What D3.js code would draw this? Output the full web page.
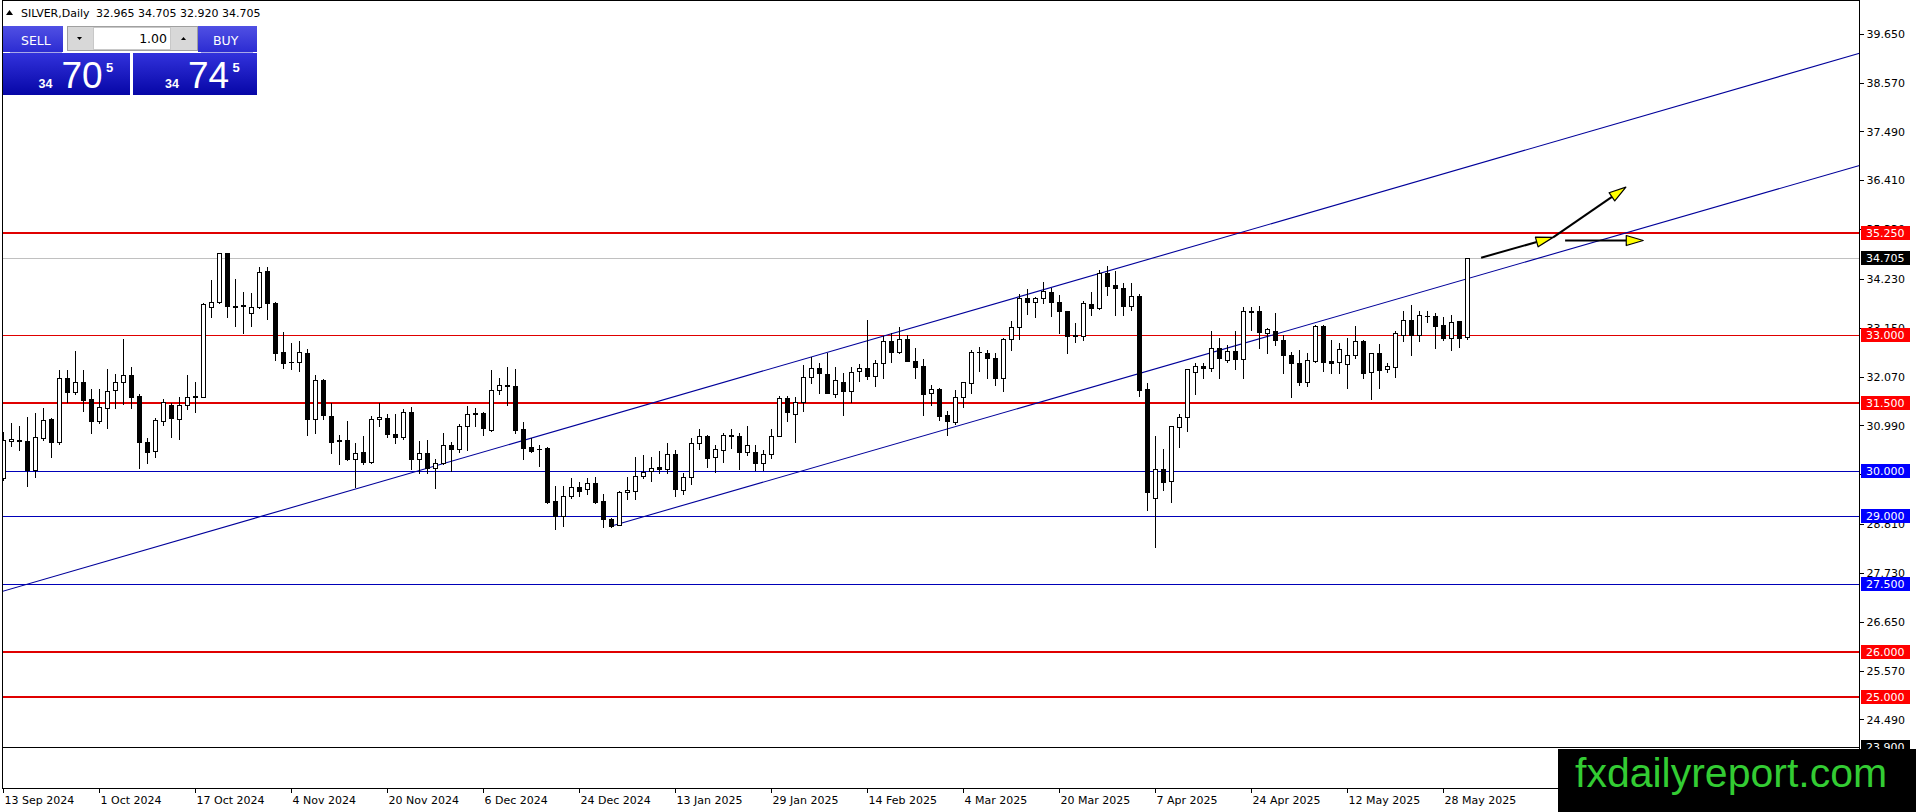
<!DOCTYPE html>
<html><head><meta charset="utf-8">
<script src="https://cdn.jsdelivr.net/npm/d3@7"></script>
<style>
html,body{margin:0;padding:0;background:#fff;overflow:hidden}
svg{display:block}
</style></head><body>
<svg id="c" width="1916" height="812"></svg>
<script>
// ---------------- DATA ----------------
const symbol = "SILVER,Daily";
const lastBarText = "32.965 34.705 32.920 34.705";
const startDate = "2024-09-13";
const holidays = ["2024-12-25","2025-01-01","2025-04-18"];

const open = [29.83,30.65,30.68,30.66,30.02,30.72,31.14,30.63,32.04,31.75,
31.97,31.58,31.11,31.38,31.79,31.97,32.12,31.65,30.64,30.44,
31.11,31.45,31.14,31.45,31.64,31.64,33.61,33.74,34.81,33.64,
33.66,33.48,33.63,34.42,33.72,32.62,32.40,32.40,32.60,31.14,
32.01,31.21,30.67,30.68,30.25,30.41,30.19,31.15,31.16,30.81,
30.74,31.29,30.25,30.39,30.05,30.18,30.57,30.47,30.99,31.25,
31.27,30.90,31.79,31.87,31.87,30.92,30.52,30.47,30.50,29.33,
29.00,29.45,29.63,29.59,29.72,29.33,28.93,28.80,29.52,29.55,
29.89,30.00,30.08,30.03,30.36,29.58,29.86,30.61,30.77,30.30,
30.46,30.77,30.77,30.41,30.42,30.17,30.36,30.77,31.60,31.25,
31.53,32.08,32.27,32.15,31.69,31.97,31.77,32.21,32.27,32.10,
32.38,32.86,32.63,32.91,32.43,32.32,31.71,31.81,31.23,31.07,
31.62,31.95,32.62,32.60,32.49,32.04,32.91,33.17,33.81,33.74,
33.81,33.96,33.74,33.53,32.97,32.97,33.69,33.59,34.38,34.11,
34.03,33.64,33.86,31.80,29.39,30.03,29.78,30.97,31.18,32.18,
32.32,32.27,32.71,32.45,32.65,32.46,33.53,33.53,33.04,33.10,
32.89,32.56,32.38,31.97,32.43,33.19,32.43,32.41,32.35,32.55,
32.87,32.18,32.61,32.24,32.30,33.00,33.33,33.00,33.42,33.42,
33.22,32.93,33.30,32.965];

const high = [30.86,31.06,31.00,31.19,31.27,31.38,31.16,32.23,32.23,32.65,
32.23,31.81,31.81,32.24,32.15,32.91,32.29,31.70,30.73,31.16,
31.58,31.49,31.64,32.12,31.97,33.70,34.22,34.82,34.82,34.25,
33.96,33.92,34.50,34.50,33.74,33.06,32.82,32.86,32.69,32.12,
32.03,31.49,30.79,31.09,30.61,30.77,31.21,31.49,31.26,31.25,
31.36,31.42,30.66,30.68,30.25,30.83,30.63,31.04,31.43,31.38,
31.29,32.23,32.04,32.30,32.25,31.07,30.72,30.57,30.52,29.66,
29.66,29.83,29.76,29.83,29.87,29.48,28.95,29.56,29.86,30.30,
30.35,30.30,30.44,30.62,30.46,29.94,30.72,30.92,30.79,30.58,
30.83,30.92,30.84,30.99,30.57,30.46,30.92,31.65,31.65,31.64,
32.34,32.51,32.38,32.61,32.29,32.17,32.30,32.36,33.33,32.45,
32.97,33.05,33.17,33.00,32.71,32.46,31.90,31.82,31.33,31.79,
31.97,32.67,32.73,32.67,32.60,32.93,33.30,33.91,34.01,33.85,
34.17,34.03,33.89,33.54,33.26,33.76,33.96,34.44,34.53,34.42,
34.16,34.16,33.91,31.93,30.77,30.47,30.99,31.26,32.24,32.38,
32.38,33.08,32.93,32.78,33.09,33.63,33.63,33.64,33.15,33.48,
33.00,32.63,32.67,32.60,33.22,33.22,32.89,32.83,32.94,33.19,
32.88,32.61,32.80,32.38,33.09,33.53,33.67,33.53,33.53,33.48,
33.39,33.44,33.31,34.705];

const low = [29.80,30.55,30.46,29.66,29.86,30.68,30.31,30.59,31.51,31.70,
31.32,30.84,31.06,30.95,31.38,31.47,31.38,30.07,30.18,30.31,
31.01,30.75,30.70,31.37,31.29,31.62,33.41,33.72,33.39,33.19,
33.04,33.19,33.59,33.35,32.45,32.28,32.25,32.21,30.78,30.83,
31.15,30.39,30.14,30.24,29.63,30.14,30.18,31.00,30.74,30.61,
30.70,30.03,29.94,29.94,29.61,30.16,30.00,30.42,30.46,30.98,
30.79,30.87,31.70,31.45,30.84,30.25,30.42,30.11,29.28,28.71,
28.77,29.39,29.44,29.48,29.28,28.76,28.76,28.79,29.37,29.37,
29.83,29.78,29.96,29.94,29.45,29.48,29.70,30.48,30.09,29.97,
30.19,30.51,30.04,30.35,30.02,30.02,30.28,30.76,31.09,30.64,
31.33,31.93,31.71,31.71,31.64,31.23,31.53,31.99,32.02,31.87,
32.04,32.41,32.60,32.42,32.06,31.23,31.46,31.12,30.78,31.04,
31.42,31.73,32.21,32.04,31.90,31.77,32.66,32.91,33.47,33.39,
33.72,33.42,33.05,32.61,32.85,32.88,33.44,33.57,33.89,33.44,
33.44,33.56,31.66,29.13,28.32,29.58,29.30,30.53,30.87,31.70,
32.04,32.21,32.04,32.40,32.24,32.06,33.11,32.72,32.61,32.77,
32.16,31.62,31.90,31.88,32.40,32.21,32.17,32.17,31.84,32.49,
32.04,31.59,31.84,32.19,32.08,32.87,32.56,32.86,33.28,32.72,
32.88,32.66,32.73,32.92];

const close = [30.68,30.70,30.66,30.02,30.74,31.12,30.64,32.04,31.75,31.97,
31.56,31.11,31.40,31.77,31.97,32.12,31.64,30.63,30.42,31.12,
31.51,31.16,31.45,31.62,31.66,33.68,33.74,34.81,33.65,33.62,
33.64,33.63,34.40,33.72,32.60,32.39,32.41,32.62,31.14,32.01,
31.23,30.64,30.65,30.25,30.40,30.20,31.14,31.19,30.81,30.74,
31.29,30.25,30.39,30.05,30.18,30.58,30.47,30.99,31.25,31.27,
30.94,31.79,31.90,31.89,30.90,30.51,30.44,30.49,29.32,29.00,
29.45,29.63,29.56,29.74,29.32,28.93,28.78,29.52,29.58,29.89,
29.98,30.05,30.03,30.36,29.59,29.86,30.61,30.77,30.28,30.47,
30.79,30.78,30.41,30.57,30.17,30.37,30.77,31.60,31.29,31.53,
32.08,32.27,32.17,31.73,32.01,31.77,32.18,32.27,32.10,32.38,
32.86,32.63,32.91,32.43,32.30,31.70,31.81,31.22,31.09,31.64,
31.96,32.63,32.63,32.49,32.04,32.91,33.17,33.81,33.74,33.81,
33.98,33.74,33.54,32.98,33.00,33.72,33.59,34.37,34.09,34.03,
33.64,33.86,31.79,29.54,30.03,29.76,30.99,31.18,32.24,32.32,
32.27,32.71,32.49,32.65,32.46,33.53,33.52,33.06,33.13,32.89,
32.57,32.38,31.96,32.45,33.19,32.41,32.39,32.69,32.56,32.87,
32.17,32.60,32.23,32.32,33.04,33.33,33.00,33.44,33.43,33.21,
32.93,33.28,32.93,34.705];

const priceTicks = [39.65,38.57,37.49,36.41,35.33,34.23,33.15,32.07,30.99,29.91,28.81,27.73,26.65,25.57,24.49];
const redThickLevels = [35.25, 31.5, 26.0, 25.0];
const redThinLevels = [33.0];
const blueLevels = [30.0, 29.0, 27.5];
const blackLevels = [23.9];
const currentPrice = 34.705;
// trend lines as [barIndex, price] anchors
const channelUpper = [[-1, 27.29], [232, 39.23]];
const channelLower = [[76, 28.78], [232, 36.75]];
// arrows as [[barIndex, price], [barIndex, price]]
const arrows = [
  [[184.7, 34.71], [193.7, 35.16]],
  [[193.7, 35.16], [202.8, 36.27]],
  [[195.2, 35.09], [204.97, 35.09]]
];
const lotSize = "1.00";
const bidBig = "70", bidSmall = "34", bidPip = "5";
const askBig = "74", askSmall = "34", askPip = "5";
const watermark = "fxdailyreport.com";

// ---------------- CHART ----------------
const svg = d3.select("#c");
const FONT = "DejaVu Sans, sans-serif";
const plotL = 2.5, plotR = 1859.5, plotT = 0.5, plotB = 788;
const x = d3.scaleLinear().domain([0, close.length - 1]).range([3.5, 3.5 + 8 * (close.length - 1)]);
const y = d3.scaleLinear().domain([22.986, 40.386]).range([788, 1]);
const yc = v => Math.round(y(v)) + 0.5;

svg.append("rect").attr("width", 1916).attr("height", 812).attr("fill", "#fff");

const defs = svg.append("defs");
defs.append("clipPath").attr("id", "plotclip").append("rect")
  .attr("x", plotL).attr("y", plotT).attr("width", plotR - plotL).attr("height", plotB - plotT);
const gTop = defs.append("linearGradient").attr("id", "gTop").attr("x1", 0).attr("y1", 0).attr("x2", 0).attr("y2", 1);
gTop.append("stop").attr("offset", "0%").attr("stop-color", "#5050e4");
gTop.append("stop").attr("offset", "100%").attr("stop-color", "#2c2cd2");
const gBig = defs.append("linearGradient").attr("id", "gBig").attr("x1", 0).attr("y1", 0).attr("x2", 0).attr("y2", 1);
gBig.append("stop").attr("offset", "0%").attr("stop-color", "#3232dc");
gBig.append("stop").attr("offset", "100%").attr("stop-color", "#0606a6");

// dates (trading days)
const isoFmt = d3.timeFormat("%Y-%m-%d");
const dates = [];
{
  let d = new Date(startDate + "T00:00:00");
  while (dates.length < close.length) {
    const dow = d.getDay();
    if (dow !== 0 && dow !== 6 && !holidays.includes(isoFmt(d))) dates.push(new Date(d));
    d.setDate(d.getDate() + 1);
  }
}
const dateFmt = d3.timeFormat("%-d %b %Y");

const plot = svg.append("g").attr("clip-path", "url(#plotclip)");

// horizontal levels
function hline(v, color, w) {
  const yy = w === 2 ? Math.round(y(v)) : yc(v);
  plot.append("line").attr("x1", plotL).attr("x2", plotR).attr("y1", yy).attr("y2", yy)
    .attr("stroke", color).attr("stroke-width", w).attr("shape-rendering", "crispEdges");
}
hline(currentPrice, "#c0c0c0", 1);
blackLevels.forEach(v => hline(v, "#000", 1));
blueLevels.forEach(v => hline(v, "#0000b8", 1));
redThinLevels.forEach(v => hline(v, "#e00000", 1));
redThickLevels.forEach(v => hline(v, "#e00000", 2));

// channel lines
const lineGen = d3.line().x(d => x(d[0])).y(d => y(d[1]));
[channelUpper, channelLower].forEach(l => {
  plot.append("path").attr("d", lineGen(l)).attr("fill", "none").attr("stroke", "#00009a").attr("stroke-width", 1.1);
});

// candles
const candles = plot.append("g").attr("shape-rendering", "crispEdges");
close.forEach((c, i) => {
  const o = open[i], h = high[i], l = low[i];
  const cx = x(i);
  candles.append("line").attr("x1", cx).attr("x2", cx).attr("y1", Math.round(y(h))).attr("y2", Math.round(y(l)) + 1)
    .attr("stroke", "#000").attr("stroke-width", 1);
  const top = yc(Math.max(o, c)), bot = yc(Math.min(o, c));
  if (bot - top < 1) {
    candles.append("line").attr("x1", cx - 2.5).attr("x2", cx + 2.5).attr("y1", top).attr("y2", top)
      .attr("stroke", "#000").attr("stroke-width", 1);
  } else {
    candles.append("rect").attr("x", cx - 2).attr("y", top).attr("width", 4).attr("height", bot - top)
      .attr("fill", c >= o ? "#fff" : "#000").attr("stroke", "#000").attr("stroke-width", 1);
  }
});

// arrows
arrows.forEach(a => {
  const x1 = x(a[0][0]), y1 = y(a[0][1]), x2 = x(a[1][0]), y2 = y(a[1][1]);
  const ang = Math.atan2(y2 - y1, x2 - x1);
  const len = 17, hw = 5;
  const bx = x2 - len * Math.cos(ang), by = y2 - len * Math.sin(ang);
  plot.append("line").attr("x1", x1).attr("y1", y1).attr("x2", bx).attr("y2", by)
    .attr("stroke", "#000").attr("stroke-width", 2);
  const p = [[x2, y2], [bx + hw * Math.sin(ang), by - hw * Math.cos(ang)], [bx - hw * Math.sin(ang), by + hw * Math.cos(ang)]];
  plot.append("path").attr("d", "M" + p.map(q => q.join(",")).join("L") + "Z")
    .attr("fill", "#ffff00").attr("stroke", "#000").attr("stroke-width", 1.2).attr("stroke-linejoin", "round");
});

// frame
svg.append("rect").attr("x", plotL).attr("y", plotT).attr("width", plotR - plotL).attr("height", plotB - plotT)
  .attr("fill", "none").attr("stroke", "#000").attr("stroke-width", 1).attr("shape-rendering", "crispEdges");
svg.append("line").attr("x1", plotL).attr("x2", plotR).attr("y1", 788.5).attr("y2", 788.5)
  .attr("stroke", "#000").attr("stroke-width", 1).attr("shape-rendering", "crispEdges");

// bottom axis
const xAxis = d3.axisBottom(x).tickValues(d3.range(0, close.length, 12))
  .tickFormat(i => dateFmt(dates[i])).tickSize(4).offset(0);
const gx = svg.append("g").attr("transform", "translate(0,789)").call(xAxis)
  .attr("font-family", FONT).attr("font-size", 11);
gx.select(".domain").remove();
gx.selectAll(".tick line").attr("stroke", "#000").attr("shape-rendering", "crispEdges");
gx.selectAll(".tick text").attr("text-anchor", "start").attr("x", 1).attr("y", 7).attr("fill", "#000");

// right axis
const yAxis = d3.axisRight(y).tickValues(priceTicks).tickFormat(d3.format(".3f")).tickSize(4).tickPadding(3).offset(0);
const gy = svg.append("g").attr("transform", "translate(1859.5,0)").call(yAxis)
  .attr("font-family", FONT).attr("font-size", 11);
gy.select(".domain").remove();
gy.selectAll(".tick line").attr("stroke", "#000").attr("shape-rendering", "crispEdges");
gy.selectAll(".tick text").attr("fill", "#000");

// price boxes
function priceBox(v, bg) {
  const yy = Math.round(y(v));
  svg.append("rect").attr("x", 1861).attr("y", yy - 7).attr("width", 49).attr("height", 14).attr("fill", bg);
  svg.append("text").attr("x", 1866).attr("y", yy).attr("dy", "0.36em").attr("font-family", FONT)
    .attr("font-size", 11).attr("fill", "#fff").text(d3.format(".3f")(v));
}
blackLevels.forEach(v => priceBox(v, "#000"));
blueLevels.forEach(v => priceBox(v, "#0000ff"));
redThinLevels.forEach(v => priceBox(v, "#ff0000"));
redThickLevels.forEach(v => priceBox(v, "#ff0000"));
priceBox(currentPrice, "#000");

// title
svg.append("path").attr("d", "M6,15L9.5,10L13,15Z").attr("fill", "#000");
svg.append("text").attr("x", 21).attr("y", 17).attr("font-family", FONT).attr("font-size", 11).attr("fill", "#000").text(symbol);
svg.append("text").attr("x", 96).attr("y", 17).attr("font-family", FONT).attr("font-size", 11).attr("fill", "#000").text(lastBarText);

// one-click trading panel
const panel = svg.append("g");
panel.append("rect").attr("x", 3).attr("y", 26).attr("width", 60).attr("height", 26).attr("fill", "url(#gTop)");
panel.append("rect").attr("x", 198).attr("y", 26).attr("width", 59).attr("height", 26).attr("fill", "url(#gTop)");
panel.append("rect").attr("x", 3).attr("y", 53).attr("width", 127).attr("height", 42).attr("fill", "url(#gBig)");
panel.append("rect").attr("x", 133).attr("y", 53).attr("width", 124).attr("height", 42).attr("fill", "url(#gBig)");
panel.append("line").attr("x1", 10).attr("x2", 62).attr("y1", 52.5).attr("y2", 52.5).attr("stroke", "#a8a8e8");
panel.append("line").attr("x1", 201).attr("x2", 253).attr("y1", 52.5).attr("y2", 52.5).attr("stroke", "#a8a8e8");
panel.append("text").attr("x", 21).attr("y", 45).attr("font-family", FONT).attr("font-size", 12.5).attr("fill", "#fff").text("SELL");
panel.append("text").attr("x", 213).attr("y", 45).attr("font-family", FONT).attr("font-size", 12.5).attr("fill", "#fff").text("BUY");
// spin control
panel.append("rect").attr("x", 67.5).attr("y", 26.5).attr("width", 130).attr("height", 24).attr("fill", "#d8d8d8").attr("stroke", "#a0a0a0");
panel.append("rect").attr("x", 93.5).attr("y", 27.5).attr("width", 77).attr("height", 22).attr("fill", "#fff").attr("stroke", "#c8c8c8");
panel.append("path").attr("d", "M77,37L82,37L79.5,40Z").attr("fill", "#000");
panel.append("path").attr("d", "M181,40L186,40L183.5,37Z").attr("fill", "#000");
panel.append("text").attr("x", 167).attr("y", 43).attr("text-anchor", "end").attr("font-family", FONT).attr("font-size", 12.5).attr("fill", "#000").text(lotSize);
// prices
const LIB = "Liberation Sans, Arial, sans-serif";
function bigPrice(x0, small, big, pip) {
  panel.append("text").attr("x", x0).attr("y", 88).attr("font-family", LIB).attr("font-weight", "bold").attr("font-size", 12.5).attr("fill", "#fff").text(small);
  panel.append("text").attr("x", x0 + 23).attr("y", 88).attr("font-family", LIB).attr("font-size", 37).attr("fill", "#fff").text(big);
  panel.append("text").attr("x", x0 + 67.5).attr("y", 71.5).attr("font-family", LIB).attr("font-weight", "bold").attr("font-size", 13).attr("fill", "#fff").text(pip);
}
bigPrice(38.5, bidSmall, bidBig, bidPip);
bigPrice(165, askSmall, askBig, askPip);

// watermark
svg.append("rect").attr("x", 1558).attr("y", 749).attr("width", 358).attr("height", 63).attr("fill", "#000");
svg.append("text").attr("x", 1575).attr("y", 787).attr("font-family", LIB).attr("font-size", 41).attr("fill", "#33cc33").text(watermark);
</script>
</body></html>
